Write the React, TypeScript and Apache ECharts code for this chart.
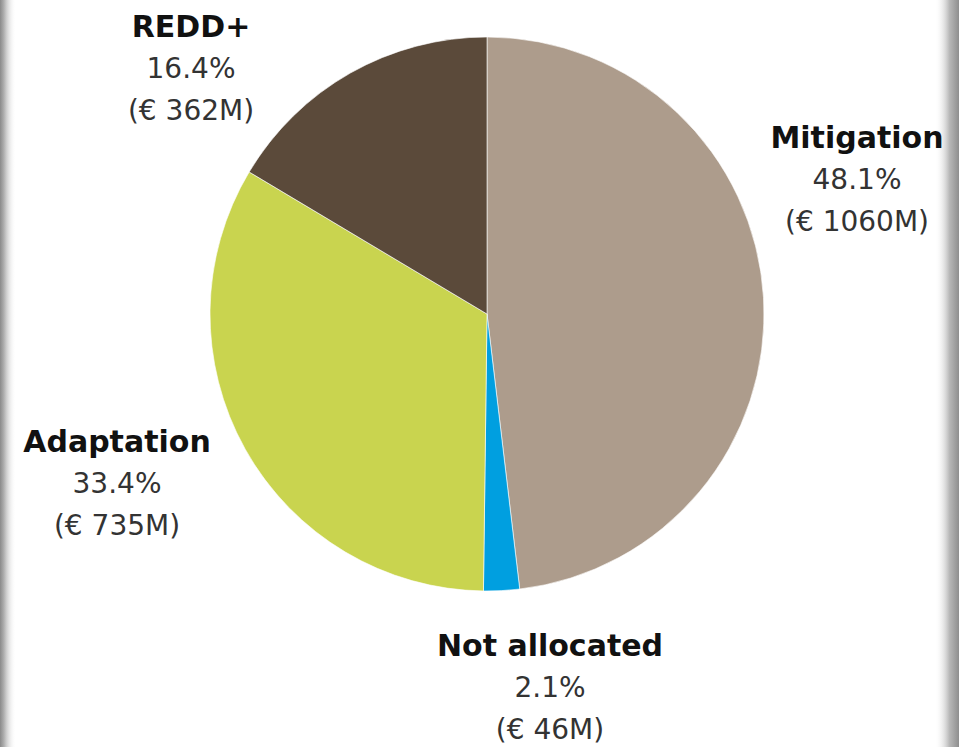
import React, { useEffect, useRef } from "react";
import * as echarts from "echarts";

const categories = ["Mitigation", "Not allocated", "Adaptation", "REDD+"];
const valuesMEUR = [1060, 46, 735, 362];
const percents = [48.1, 2.1, 33.4, 16.4];
const colors = ["#ad9c8c", "#009fe0", "#c9d44f", "#5b4a3a"];
// label block centres (styling, not data)
const labelPos = [
  [857, 179],
  [550, 687],
  [117, 483],
  [191, 68],
];

export default function App() {
  const ref = useRef<HTMLDivElement>(null);
  useEffect(() => {
    document.body.style.margin = "0";
    const chart = echarts.init(ref.current!, null, { renderer: "svg" });
    chart.setOption({
      animation: false,
      backgroundColor: "#ffffff",
      graphic: [
        {
          type: "rect",
          shape: { x: 0, y: 0, width: 16, height: 747 },
          style: {
            fill: new echarts.graphic.LinearGradient(0, 0, 1, 0, [
              { offset: 0, color: "#8a8a8a" },
              { offset: 0.25, color: "#b0b0b0" },
              { offset: 1, color: "rgba(255,255,255,0)" },
            ]),
          },
          silent: true,
        },
        {
          type: "rect",
          shape: { x: 935, y: 0, width: 24, height: 747 },
          style: {
            fill: new echarts.graphic.LinearGradient(0, 0, 1, 0, [
              { offset: 0, color: "rgba(255,255,255,0)" },
              { offset: 0.6, color: "#b8b8b8" },
              { offset: 1, color: "#8e8e8e" },
            ]),
          },
          silent: true,
        },
      ],
      series: [
        {
          type: "pie",
          center: [487, 314],
          radius: 277,
          startAngle: 90,
          clockwise: true,
          avoidLabelOverlap: false,
          itemStyle: { borderColor: "rgba(255,255,255,0.6)", borderWidth: 1 },
          labelLine: { show: false },
          label: {
            show: true,
            position: "outside",
            formatter: (p: any) =>
              `{b|${p.name}}\n{p|${percents[p.dataIndex].toFixed(1)}%}\n{v|(€ ${p.value}M)}`,
            rich: {
              b: {
                fontFamily: "DejaVu Sans",
                fontWeight: "bold",
                fontSize: 30,
                color: "#111111",
                lineHeight: 42,
                align: "center",
              },
              p: {
                fontFamily: "DejaVu Sans",
                fontSize: 28,
                color: "#333333",
                lineHeight: 42,
                align: "center",
              },
              v: {
                fontFamily: "DejaVu Sans",
                fontSize: 28,
                color: "#333333",
                lineHeight: 42,
                align: "center",
              },
            },
          },
          labelLayout: (params: any) => ({
            x: labelPos[params.dataIndex][0],
            y: labelPos[params.dataIndex][1],
            align: "center",
            verticalAlign: "middle",
          }),
          data: categories.map((c, i) => ({
            name: c,
            value: valuesMEUR[i],
            itemStyle: { color: colors[i] },
          })),
        },
      ],
    });
    return () => chart.dispose();
  }, []);
  return <div ref={ref} style={{ width: 959, height: 747 }} />;
}
